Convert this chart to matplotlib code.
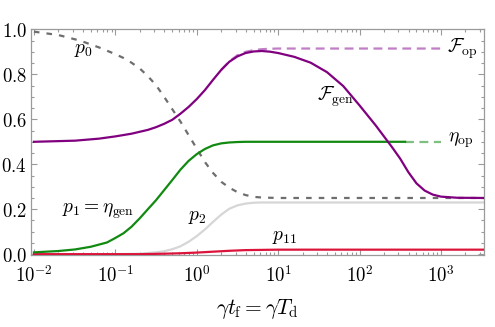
import numpy as np
import matplotlib
matplotlib.use("Agg")
import matplotlib.pyplot as plt
from matplotlib.ticker import FuncFormatter, LogLocator, MultipleLocator

plt.rcParams['mathtext.fontset'] = 'cm'

# p0 (gray dashed)
t_p0 = [0.01, 0.02, 0.037, 0.063, 0.1, 0.126, 0.158, 0.2, 0.251, 0.316, 0.398, 0.501, 0.631,
        0.794, 1.0, 1.26, 1.58, 2.0, 2.51, 3.16, 3.98, 5.01, 6.31, 10, 3375]
p0 = [0.99, 0.975, 0.95, 0.92, 0.89, 0.873, 0.852, 0.826, 0.792, 0.752, 0.70, 0.645, 0.59,
      0.53, 0.47, 0.41, 0.362, 0.322, 0.296, 0.276, 0.263, 0.255, 0.252, 0.25, 0.25]

# F_gen (purple)
t_fgen = [0.01, 0.032, 0.063, 0.1, 0.158, 0.251, 0.316, 0.398, 0.501, 0.631, 0.794, 1.0, 1.26,
          1.58, 2.0, 2.51, 3.16, 3.98, 5.01, 6.31, 7.94, 10, 15.8, 25.1, 39.8, 63.1, 100, 158,
          251, 316, 398, 501, 631, 794, 1000, 1585, 3375]
fgen = [0.5, 0.505, 0.514, 0.524, 0.536, 0.553, 0.565, 0.58, 0.598, 0.625, 0.655, 0.69, 0.73,
        0.775, 0.82, 0.856, 0.88, 0.895, 0.902, 0.904, 0.901, 0.895, 0.878, 0.852, 0.81, 0.748,
        0.662, 0.573, 0.476, 0.425, 0.365, 0.315, 0.283, 0.265, 0.256, 0.251, 0.25]

# F_op (light purple dashed)
t_fop = [2.0, 2.51, 3.16, 3.98, 5.01, 6.31, 7.94, 10, 1000]
fop = [0.82, 0.858, 0.885, 0.9, 0.908, 0.912, 0.914, 0.915, 0.915]

# p1 = eta_gen (green)
t_p1 = [0.01, 0.02, 0.032, 0.05, 0.079, 0.1, 0.126, 0.158, 0.2, 0.251, 0.316, 0.398, 0.501,
        0.631, 0.794, 1.0, 1.26, 1.58, 2.0, 2.51, 3.16, 3.98, 363]
p1 = [0.008, 0.014, 0.021, 0.033, 0.052, 0.072, 0.093, 0.122, 0.16, 0.2, 0.24, 0.285, 0.33,
      0.376, 0.415, 0.445, 0.468, 0.484, 0.493, 0.497, 0.499, 0.5, 0.5]

# eta_op (light green dashed)
t_etaop = [363, 1000]
etaop = [0.5, 0.5]

# p2 (light gray)
t_p2 = [0.01, 0.1, 0.2, 0.316, 0.398, 0.501, 0.631, 0.794, 1.0, 1.26, 1.58, 2.0, 2.51, 3.16,
        3.98, 5.01, 6.31, 3375]
p2 = [0.0, 0.0, 0.002, 0.008, 0.013, 0.022, 0.035, 0.055, 0.08, 0.11, 0.143, 0.176, 0.202,
      0.217, 0.225, 0.229, 0.23, 0.23]

# p11 (crimson)
t_p11 = [0.01, 0.2, 0.398, 0.631, 1.0, 1.58, 2.51, 3.98, 6.31, 10, 3375]
p11 = [0.0, 0.0, 0.002, 0.004, 0.007, 0.011, 0.015, 0.018, 0.019, 0.02, 0.02]

fig = plt.figure(figsize=(4.95, 3.27), dpi=100)
ax = fig.add_axes([0.0626, 0.22, 0.915, 0.69])

ax.plot(t_p2, p2, color='#d6d6d6', lw=1.6, zorder=2)
ax.plot(t_p11, p11, color='#dc143c', lw=1.6, zorder=3)
ax.plot(t_p0, p0, color='#6e6e6e', lw=1.6, ls=(0, (2.5, 3.2)), zorder=3)
ax.plot(t_etaop, etaop, color='#7fbf7f', lw=1.6, ls=(0, (4, 2.5)), zorder=3)
ax.plot(t_p1, p1, color='#128a12', lw=1.6, zorder=4)
ax.plot(t_fop, fop, color='#c07ec6', lw=1.6, ls=(0, (4, 2.5)), zorder=4)
ax.plot(t_fgen, fgen, color='#800080', lw=1.6, zorder=5)

ax.set_xscale('log')
ax.set_xlim(0.0092, 3375)
ax.set_ylim(-0.004, 1.0)

ax.xaxis.set_major_locator(LogLocator(base=10, numticks=10))
ax.xaxis.set_minor_locator(LogLocator(base=10, subs=np.arange(2, 10), numticks=20))
ax.xaxis.set_major_formatter(FuncFormatter(lambda v, p: r'$10^{%d}$' % round(np.log10(v))))
ax.yaxis.set_major_locator(MultipleLocator(0.2))
ax.yaxis.set_minor_locator(MultipleLocator(0.05))
ax.yaxis.set_major_formatter(FuncFormatter(lambda v, p: r'$%.1f$' % v))

ax.tick_params(which='both', direction='in', top=True, right=True, color='#9a9a9a',
               labelsize=13.5, width=0.8)
ax.tick_params(which='major', length=4.5, pad=3)
ax.tick_params(axis='x', which='major', pad=7)
ax.tick_params(which='minor', length=2.3)
for s in ax.spines.values():
    s.set_color('#9a9a9a')
    s.set_linewidth(0.9)

ax.text(0.041, 0.91, r'$p_0$', fontsize=14, ha='center', va='center')
ax.text(1180, 0.916, r'$\mathcal{F}_{\rm op}$', fontsize=14, ha='left', va='center')
ax.text(50, 0.70, r'$\mathcal{F}_{\rm gen}$', fontsize=14, ha='center', va='center')
ax.text(1220, 0.505, r'$\eta_{\rm op}$', fontsize=14, ha='left', va='center')
ax.text(0.061, 0.19, r'$p_1 = \eta_{\rm gen}$', fontsize=14, ha='center', va='center')
ax.text(1.0, 0.168, r'$p_2$', fontsize=14, ha='center', va='center')
ax.text(12, 0.08, r'$p_{11}$', fontsize=14, ha='center', va='center')

ax.set_xlabel(r'$\gamma t_{\rm f} = \gamma T_{\rm d}$', fontsize=15.5, labelpad=8)

fig.savefig('out.png', dpi=100)
